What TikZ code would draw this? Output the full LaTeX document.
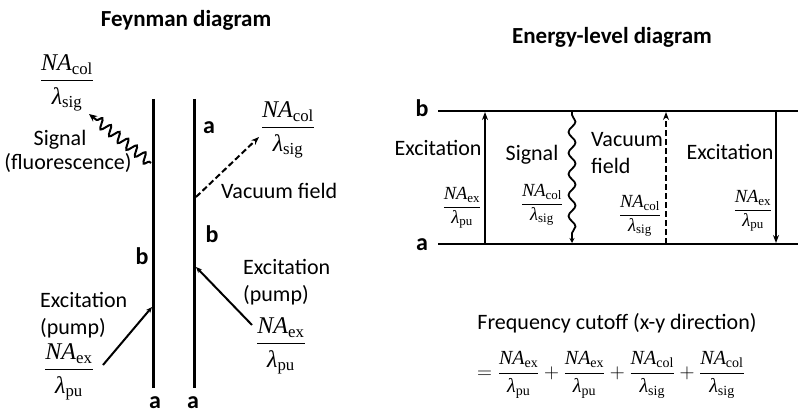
\documentclass[tikz,border=0pt]{standalone}
\usepackage{amsmath}
\usepackage{fontspec}
\setmainfont{Carlito}
\newfontfamily\tms{Liberation Serif}
\usetikzlibrary{arrows.meta,decorations.pathmorphing}
\newcommand{\NAfrac}[2]{$\dfrac{\text{\tms\itshape NA}_{\text{\tms #1}}}{\text{\tms\itshape λ}_{\text{\tms #2}}}$}
\tikzset{
  lbl/.style={inner sep=0pt, font=\fontsize{22}{24}\selectfont},
  ttl/.style={inner sep=0pt, font=\bfseries\fontsize{23}{25}\selectfont},
  lvl/.style={inner sep=0pt, font=\bfseries\fontsize{24}{26}\selectfont},
  frc/.style={inner sep=0pt, font=\fontsize{24}{28}\selectfont},
  efrc/.style={inner sep=0pt, font=\fontsize{18.5}{22}\selectfont},
  wline/.style={line width=3pt},
  elev/.style={line width=2.8pt},
  arr/.style={line width=2pt, -{Stealth[length=8pt,width=6pt]}},
  sarr/.style={line width=2pt, -{Stealth[length=6pt,width=5pt]}},
  dsh/.style={line width=2pt, dash pattern=on 6pt off 3pt},
  wavy/.style={line width=2pt, -{Stealth[length=8pt,width=7pt]}, decorate,
     decoration={snake, amplitude=5pt, segment length=11pt, post length=8pt, pre length=2pt}},
  vwavy/.style={line width=1.8pt, -{Stealth[length=5pt,width=5pt]}, decorate,
     decoration={snake, amplitude=3.5pt, segment length=21pt, post length=5pt, pre length=3pt}},
}
\begin{document}
\begin{tikzpicture}[x=1pt,y=-1pt]
\useasboundingbox (0,0) rectangle (798,414);
% ---------- Feynman diagram ----------
\node[ttl] (ft) at (186,20) {Feynman diagram};
\coordinate (l1t) at (153,99); \coordinate (l1b) at (153,388);
\coordinate (l2t) at (194,99); \coordinate (l2b) at (194,388);
\draw[wline] (l1t) -- (l1b);
\draw[wline] (l2t) -- (l2b);
\node[lvl] (fa1) at (155,403) {a};
\node[lvl] (fa2) at (193,403) {a};
\node[lvl] (fb1) at (142,256) {b};
\node[lvl] (fb2) at (212,234) {b};
\node[lvl] (fa3) at (209,128) {a};
% signal
\coordinate (sigS) at (151,163); \coordinate (sigE) at (89,114);
\draw[wavy] (sigS) -- (sigE);
% vacuum
\coordinate (vacS) at (196,197); \coordinate (vacE) at (259,137);
\draw[arr, dsh] (vacS) -- (vacE);
% excitations
\coordinate (exLS) at (103,365); \coordinate (exLE) at (152,307);
\draw[sarr] (exLS) -- (exLE);
\coordinate (exRS) at (252,325); \coordinate (exRE) at (196,267);
\draw[sarr] (exRS) -- (exRE);
% labels
\node[frc] (f1) at (67,83) {\NAfrac{col}{sig}};
\node[lbl] (sg) at (60,140) {Signal};
\node[lbl] (fl) at (68,163) {(fluorescence)};
\node[frc] (f2) at (288,130) {\NAfrac{col}{sig}};
\node[lbl, anchor=west] (vf) at (221,191) {Vacuum field};
\node[lbl, anchor=west] (exr) at (243,267) {Excitation};
\node[lbl, anchor=west] (pur) at (243,295) {(pump)};
\node[frc] (f3) at (281,346) {\NAfrac{ex}{pu}};
\node[lbl, anchor=west] (exl) at (40,300) {Excitation};
\node[lbl, anchor=west] (pul) at (40,328) {(pump)};
\node[frc] (f4) at (69,372) {\NAfrac{ex}{pu}};
% ---------- Energy-level diagram ----------
\node[ttl] (et) at (612,37) {Energy-level diagram};
\coordinate (bL) at (438,111); \coordinate (bR) at (798,111);
\coordinate (aL) at (438,244); \coordinate (aR) at (798,244);
\draw[elev] (bL) -- (bR);
\draw[elev] (aL) -- (aR);
\node[lvl] (eb) at (422,108) {b};
\node[lvl] (ea) at (422,245) {a};
\coordinate (u1a) at (485,244); \coordinate (u1b) at (485,112);
\draw[arr] (u1a) -- (u1b);
\coordinate (w1b) at (572,112); \coordinate (w1a) at (572,243);
\draw[vwavy] (w1b) -- (w1a);
\coordinate (d1a) at (666,244); \coordinate (d1b) at (666,112);
\draw[arr, dsh] (d1a) -- (d1b);
\coordinate (x2b) at (776,112); \coordinate (x2a) at (776,243);
\draw[arr] (x2b) -- (x2a);
\node[lbl] (e1) at (438,148) {Excitation};
\node[efrc] (g1) at (462,208) {\NAfrac{ex}{pu}};
\node[lbl] (e2) at (532,155) {Signal};
\node[efrc] (g2) at (542,205) {\NAfrac{col}{sig}};
\node[lbl, anchor=west] (e3) at (591,140) {Vacuum};
\node[lbl, anchor=west] (e4) at (591,166) {field};
\node[efrc] (g3) at (640,216) {\NAfrac{col}{sig}};
\node[lbl] (e5) at (730,152) {Excitation};
\node[efrc] (g4) at (753,211) {\NAfrac{ex}{pu}};
% frequency cutoff
\node[lbl] (fc) at (617,323) {Frequency cutoff (x-y direction)};
\node[inner sep=0pt, font=\fontsize{20}{24}\selectfont] (eq) at (611,375) {$=\dfrac{\text{\tms\itshape NA}_{\text{\tms ex}}}{\text{\tms\itshape λ}_{\text{\tms pu}}}
 +\dfrac{\text{\tms\itshape NA}_{\text{\tms ex}}}{\text{\tms\itshape λ}_{\text{\tms pu}}}
 +\dfrac{\text{\tms\itshape NA}_{\text{\tms col}}}{\text{\tms\itshape λ}_{\text{\tms sig}}}
 +\dfrac{\text{\tms\itshape NA}_{\text{\tms col}}}{\text{\tms\itshape λ}_{\text{\tms sig}}}$};
\end{tikzpicture}
\end{document}
